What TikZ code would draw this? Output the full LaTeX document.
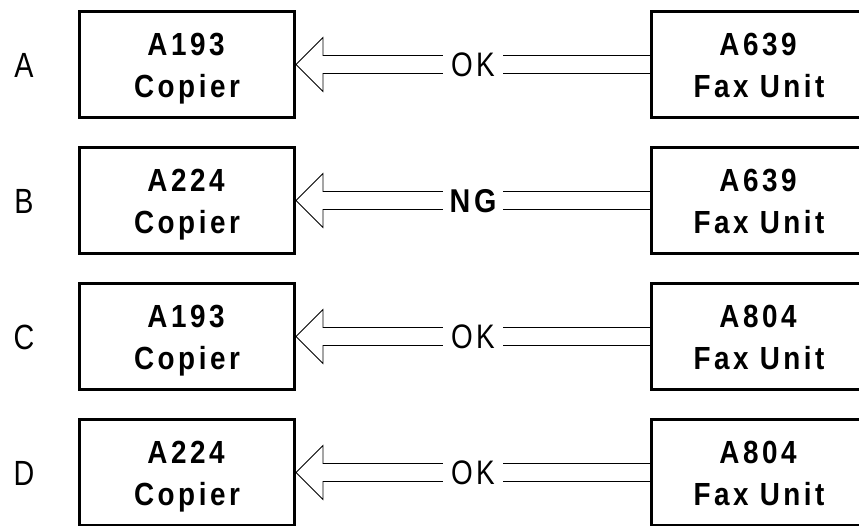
\documentclass[tikz,border=0pt]{standalone}
\usepackage{fontspec}
\setmainfont{Liberation Sans}
\newfontfamily\boxfont{Liberation Sans}[FakeStretch=0.87,LetterSpace=11]
\newfontfamily\lblfont{Liberation Sans}[FakeStretch=0.82,LetterSpace=10]
\usetikzlibrary{calc}
\begin{document}
\begin{tikzpicture}[x=1pt,y=-1pt,
  unitbox/.style={draw, line width=3pt, minimum width=215pt, minimum height=106pt, inner sep=0pt},
  boxtext/.style={font=\boxfont\bfseries\fontsize{32}{32}\selectfont, inner sep=0pt, anchor=base},
  rowlbl/.style={font=\lblfont\fontsize{35}{35}\selectfont, inner sep=0pt, anchor=base},
  oklbl/.style={font=\lblfont\fontsize{34}{34}\selectfont, minimum width=60pt, inner sep=0pt, anchor=base},
  ngtext/.style={font=\boxfont\bfseries\fontsize{33}{33}\selectfont, minimum width=60pt, inner sep=0pt, anchor=base},
  shaft/.style={line width=0.8pt}]
\useasboundingbox (0,0) rectangle (859,525);
\foreach \r/\c/\f/\s/\st [count=\i from 0] in {A/A193/A639/OK/oklbl, B/A224/A639/NG/ngtext, C/A193/A804/OK/oklbl, D/A224/A804/OK/oklbl} {
  \pgfmathsetmacro\yy{64.5+136*\i}
  \node[rowlbl] (lab\r) at (24,\yy+12.5) {\r};
  \node[unitbox] (cop\r) at (187,\yy) {};
  \node[boxtext] (cop\r a) at ($(cop\r.north)+(-1,45)$) {\c};
  \node[boxtext] (cop\r b) at ($(cop\r.north)+(0,87)$) {Copier};
  \node[unitbox] (fax\r) at (759,\yy) {};
  \node[boxtext] (fax\r a) at ($(fax\r.north)+(-1,45)$) {\f};
  \node[boxtext] (fax\r b) at ($(fax\r.north)+(0,87)$) {Fax Unit};
  \node[\st] (st\r) at (473,\yy+12) {\s};
  \coordinate (m\r) at (st\r.west |- 0,\yy);
  \coordinate (n\r) at (st\r.east |- 0,\yy);
  \draw[shaft] ($(m\r)+(0,-9)$) -- ($(cop\r.east)+(27,-9)$) -- ($(cop\r.east)+(27,-27)$)
     -- (cop\r.east) -- ($(cop\r.east)+(27,27)$) -- ($(cop\r.east)+(27,9)$) -- ($(m\r)+(0,9)$);
  \draw[shaft] ($(n\r)+(0,-9)$) -- ($(fax\r.west)+(0,-9)$);
  \draw[shaft] ($(n\r)+(0,9)$) -- ($(fax\r.west)+(0,9)$);
}
\end{tikzpicture}
\end{document}
